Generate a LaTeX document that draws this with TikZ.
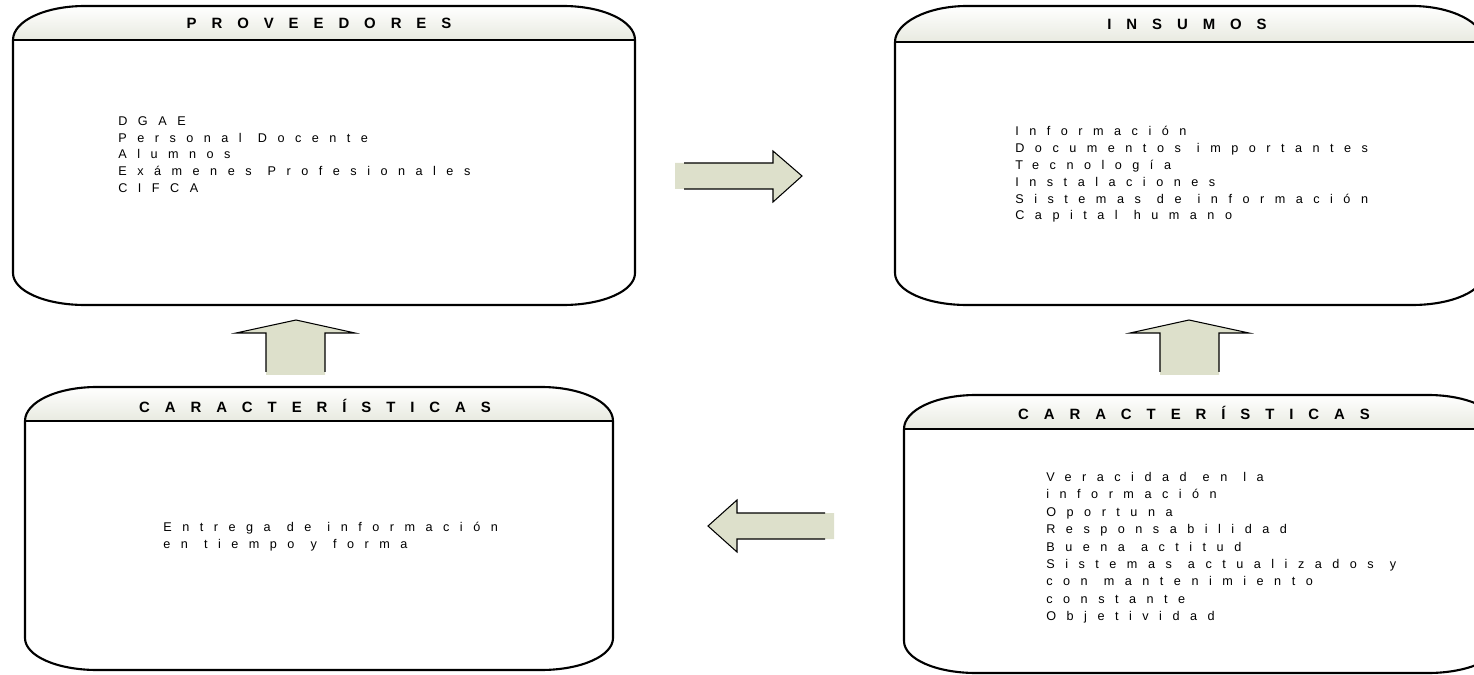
\documentclass[tikz,border=0pt]{standalone}
\usepackage{fontspec}
\usepackage{tikz}

\newfontfamily\titlefont[LetterSpace=100]{Liberation Sans}
\newfontfamily\listfont[LetterSpace=83, WordSpace=1.15]{Liberation Sans}

\definecolor{headgray}{RGB}{232,234,224}
\definecolor{arrowgreen}{RGB}{221,224,203}

\tikzset{
  boxline/.style={line width=1.2pt, line join=round},
  arrowline/.style={line width=0.6pt, line join=miter},
  titletext/.style={inner sep=0pt, font=\titlefont\bfseries\fontsize{8.5}{10}\selectfont},
  listtext/.style={anchor=north west, inner sep=0pt, align=left,
    font=\listfont\fontsize{7.2}{9.6}\selectfont},
}

% box with rounded ends and a shaded title band
% #1 left, #2 top, #3 title line, #4 right, #5 bottom
\newcommand{\procbox}[5]{%
  \shade[top color=white, bottom color=headgray]
    (#1,#3) .. controls (#1,#3-19) and (#1+32,#2) .. (#1+72,#2)
    -- (#4-72,#2) .. controls (#4-32,#2) and (#4,#3-19) .. (#4,#3) -- cycle;
  \draw[boxline] (#1,#3) -- (#4,#3);
  \draw[boxline] (#1,#3) -- (#1,#5-32) .. controls (#1,#5-14) and (#1+32,#5) .. (#1+72,#5)
    -- (#4-72,#5) .. controls (#4-32,#5) and (#4,#5-14) .. (#4,#5-32) -- (#4,#3)
    .. controls (#4,#3-19) and (#4-32,#2) .. (#4-72,#2) -- (#1+72,#2)
    .. controls (#1+32,#2) and (#1,#3-19) .. (#1,#3) -- cycle;
}

\begin{document}
\begin{tikzpicture}[x=0.02cm, y=-0.02cm]
  \clip (0,0) rectangle (1474,675);

  \procbox{13}{6}{40}{635}{305}
  \procbox{895}{6}{42}{1484}{305}
  \procbox{25}{387}{421}{613}{670}
  \procbox{904}{395}{429}{1500}{673}

  \node[titletext] (proveedores) at (319,23) {PROVEEDORES};
  \node[titletext] (insumos) at (1187,24) {INSUMOS};
  \node[titletext] (caractizq) at (315,406) {CARACTERÍSTICAS};
  \node[titletext] (caractder) at (1194,413) {CARACTERÍSTICAS};

  \node[listtext] (provlist) at (118,116)
    {DGAE\\Personal Docente\\Alumnos\\Exámenes Profesionales\\CIFCA};
  \node[listtext] (insulist) at (1015,126)
    {Información\\Documentos importantes\\Tecnología\\Instalaciones\\Sistemas de información\\Capital humano};
  \node[listtext] (entregalist) at (163,522)
    {Entrega de información\\en tiempo y forma};
  \node[listtext, font=\listfont\fontsize{7.2}{9.9}\selectfont] (cualidlist) at (1046,472)
    {Veracidad en la\\información\\Oportuna\\Responsabilidad\\Buena actitud\\Sistemas actualizados y\\con mantenimiento\\constante\\Objetividad};

  % block arrows
  \fill[arrowgreen] (675,163) -- (773,163) -- (773,151) -- (802,176) -- (773,202) -- (773,189) -- (675,189) -- cycle;
  \draw[arrowline] (684,163) -- (773,163) -- (773,151) -- (802,176) -- (773,202) -- (773,189) -- (684,189);

  \fill[arrowgreen] (834,513) -- (737,513) -- (737,500) -- (708,526) -- (737,552) -- (737,539) -- (834,539) -- cycle;
  \draw[arrowline] (825,513) -- (737,513) -- (737,500) -- (708,526) -- (737,552) -- (737,539) -- (825,539);

  \fill[arrowgreen] (266,375) -- (266,333) -- (236,333) -- (296,320) -- (355,333) -- (325,333) -- (325,375) -- cycle;
  \draw[arrowline] (266,372) -- (266,333) -- (236,333) -- (296,320) -- (355,333) -- (325,333) -- (325,372);

  \fill[arrowgreen] (1160,375) -- (1160,333) -- (1130,333) -- (1189,320) -- (1249,333) -- (1219,333) -- (1219,375) -- cycle;
  \draw[arrowline] (1160,372) -- (1160,333) -- (1130,333) -- (1189,320) -- (1249,333) -- (1219,333) -- (1219,372);
\end{tikzpicture}
\end{document}
